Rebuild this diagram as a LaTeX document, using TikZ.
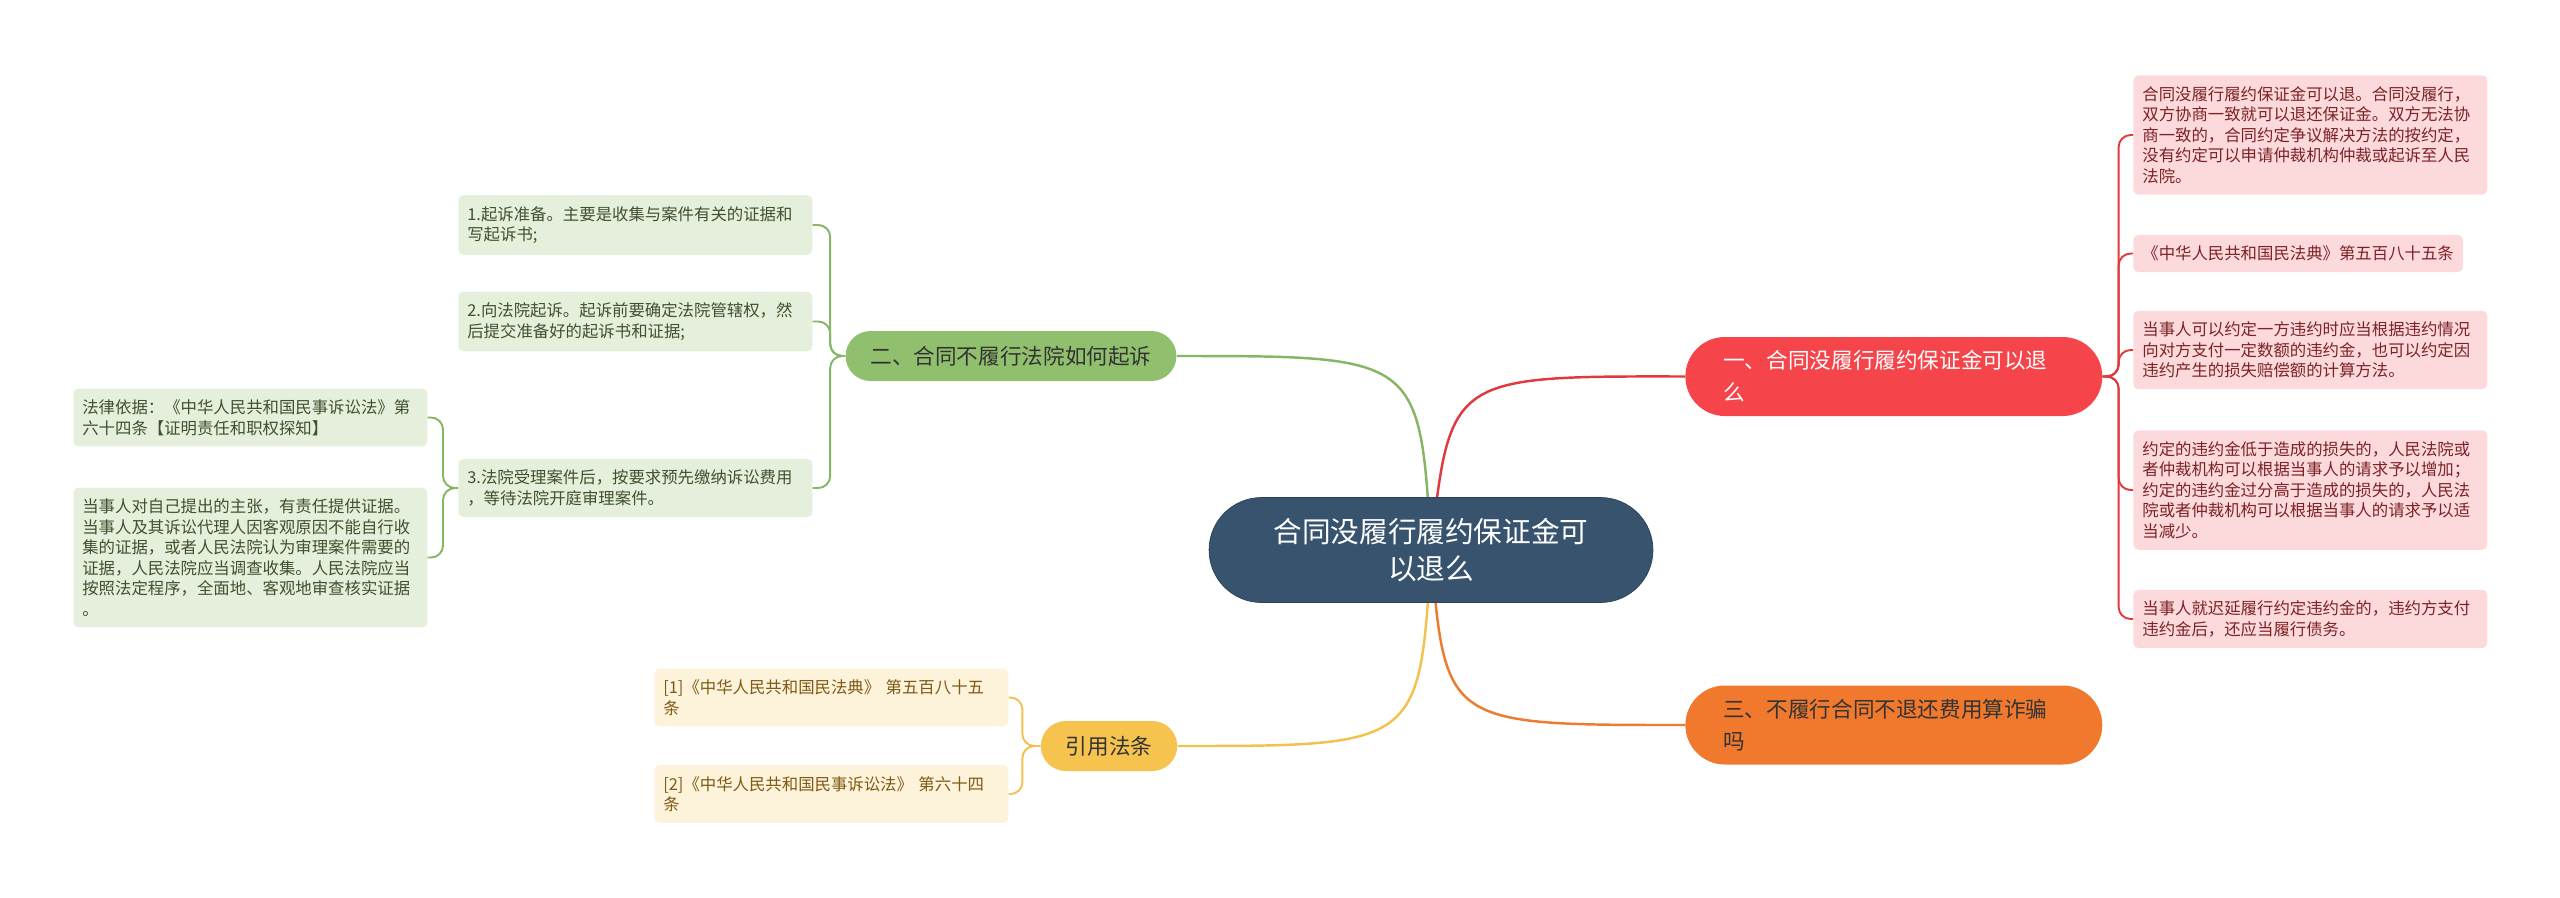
\documentclass[tikz,border=0pt]{standalone}
\usepackage{fontspec}
\setmainfont{Noto Sans CJK SC}
\usetikzlibrary{backgrounds}

\definecolor{rootfill}{HTML}{37536E}
\definecolor{onefill}{HTML}{F5454B}
\definecolor{twofill}{HTML}{90BF6E}
\definecolor{threefill}{HTML}{F0792E}
\definecolor{citefill}{HTML}{F6C34F}
\definecolor{redleaf}{HTML}{FCDADC}
\definecolor{redtext}{HTML}{7C2226}
\definecolor{greenleaf}{HTML}{E6EFDC}
\definecolor{greentext}{HTML}{3E522E}
\definecolor{yellowleaf}{HTML}{FDF2DA}
\definecolor{yellowtext}{HTML}{7E5A12}
\definecolor{redline}{HTML}{E0393E}
\definecolor{greenline}{HTML}{86B566}
\definecolor{yellowline}{HTML}{F2C14E}
\definecolor{orangeline}{HTML}{EF7B30}

\begin{document}
\begin{tikzpicture}[x=0.02cm, y=-0.02cm,
  rootbox/.style={fill=rootfill, draw=rootfill!80!black, text=white, rounded corners=1.05cm,
    minimum width=8.88cm, minimum height=2.1cm, align=center,
    font=\fontsize{16.3pt}{20.8pt}\selectfont},
  bigbranch/.style={rounded corners=0.79cm, minimum height=1.58cm, text width=6.82cm,
    inner xsep=0.76cm, align=left, anchor=west, font=\fontsize{12.3pt}{18.2pt}\selectfont},
  branch/.style={rounded corners=0.5cm, minimum height=1cm, inner xsep=0.5cm,
    font=\fontsize{12.3pt}{18.2pt}\selectfont},
  leaf/.style={rounded corners=0.1cm, inner xsep=0.18cm, inner ysep=0.22cm, align=left,
    anchor=west, font=\fontsize{9.33pt}{11.7pt}\selectfont},
  wide/.style={text width=6.72cm},
  redbox/.style={leaf, fill=redleaf, text=redtext},
  greenbox/.style={leaf, wide, fill=greenleaf, text=greentext},
  yellowbox/.style={leaf, wide, fill=yellowleaf, text=yellowtext},
  link/.style={line width=1.4pt},
  twig/.style={line width=1.1pt, rounded corners=0.24cm}]

  \useasboundingbox (0,0) rectangle (2560,897);

  \node[rootbox] (root) at (1431,550) {合同没履行履约保证金可\\以退么};

  \node[bigbranch, fill=onefill, text=white] (one) at (1685,376.5) {一、合同没履行履约保证金可以退\\么};
  \node[bigbranch, fill=threefill, text=black!80] (three) at (1685,725) {三、不履行合同不退还费用算诈骗\\吗};
  \node[branch, fill=twofill, text=black!80] (two) at (1011,356) {二、合同不履行法院如何起诉};
  \node[branch, fill=citefill, text=black!80] (cite) at (1109,746) {引用法条};

  \node[redbox, wide] (r1) at (2133,135) {合同没履行履约保证金可以退。合同没履行，\\双方协商一致就可以退还保证金。双方无法协\\商一致的，合同约定争议解决方法的按约定，\\没有约定可以申请仲裁机构仲裁或起诉至人民\\法院。};
  \node[redbox] (r2) at (2133,253.5) {《中华人民共和国民法典》第五百八十五条};
  \node[redbox, wide] (r3) at (2133,350) {当事人可以约定一方违约时应当根据违约情况\\向对方支付一定数额的违约金，也可以约定因\\违约产生的损失赔偿额的计算方法。};
  \node[redbox, wide] (r4) at (2133,490) {约定的违约金低于造成的损失的，人民法院或\\者仲裁机构可以根据当事人的请求予以增加；\\约定的违约金过分高于造成的损失的，人民法\\院或者仲裁机构可以根据当事人的请求予以适\\当减少。};
  \node[redbox, wide] (r5) at (2133,619) {当事人就迟延履行约定违约金的，违约方支付\\违约金后，还应当履行债务。};

  \node[greenbox] (g1) at (458,225) {1.起诉准备。主要是收集与案件有关的证据和\\写起诉书;};
  \node[greenbox] (g2) at (458,321.5) {2.向法院起诉。起诉前要确定法院管辖权，然\\后提交准备好的起诉书和证据;};
  \node[greenbox] (g3) at (458,488) {3.法院受理案件后，按要求预先缴纳诉讼费用\\，等待法院开庭审理案件。};
  \node[greenbox] (l1) at (73,417.5) {法律依据：《中华人民共和国民事诉讼法》第\\六十四条【证明责任和职权探知】};
  \node[greenbox] (l2) at (73,557.5) {当事人对自己提出的主张，有责任提供证据。\\当事人及其诉讼代理人因客观原因不能自行收\\集的证据，或者人民法院认为审理案件需要的\\证据，人民法院应当调查收集。人民法院应当\\按照法定程序，全面地、客观地审查核实证据\\。};

  \node[yellowbox] (y1) at (654,697.5) {[1]《中华人民共和国民法典》 第五百八十五\\条};
  \node[yellowbox] (y2) at (654,794) {[2]《中华人民共和国民事诉讼法》 第六十四\\条};

  \begin{scope}[on background layer]
    \draw[link, redline] (root.center) .. controls (1450,376) .. (one.west);
    \draw[link, orangeline] (root.center) .. controls (1445,725) .. (three.west);
    \draw[link, greenline] (root.center) .. controls (1420,356) .. (two.east);
    \draw[link, yellowline] (root.center) .. controls (1420,746) .. (cite.east);
  \end{scope}

  \foreach \leafname in {r1,r2,r3,r4,r5}
    \draw[twig, redline] (one.east) -- ++(16,0) |- (\leafname.west);
  \foreach \leafname in {g1,g2,g3}
    \draw[twig, greenline] (two.west) -- ++(-15,0) |- (\leafname.east);
  \foreach \leafname in {l1,l2}
    \draw[twig, greenline] (g3.west) -- ++(-15,0) |- (\leafname.east);
  \foreach \leafname in {y1,y2}
    \draw[twig, yellowline] (cite.west) -- ++(-18,0) |- (\leafname.east);
\end{tikzpicture}
\end{document}
